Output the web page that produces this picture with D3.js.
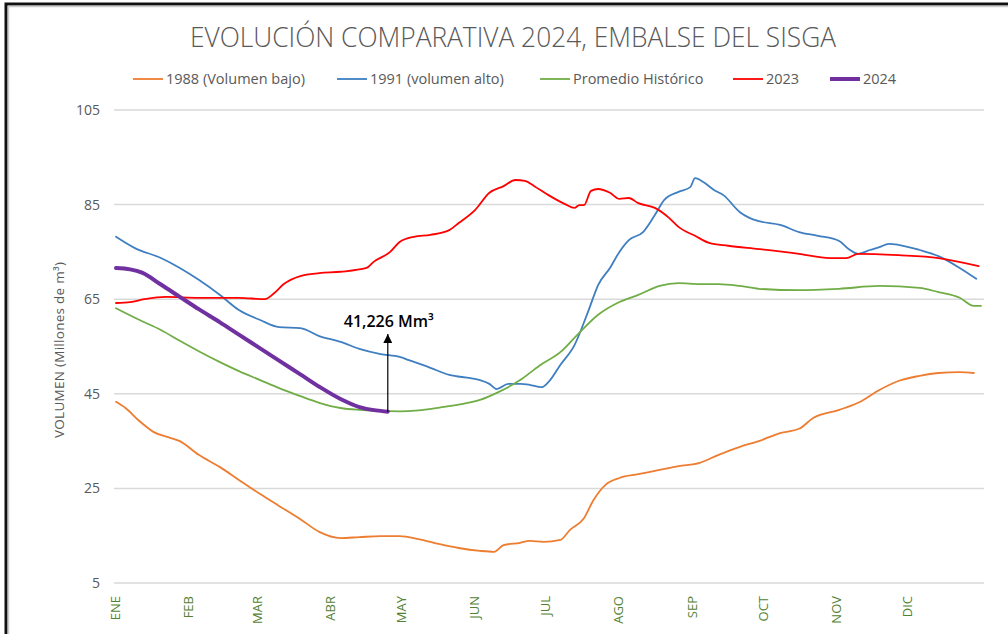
<!DOCTYPE html>
<html>
<head>
<meta charset="utf-8">
<script src="https://cdn.jsdelivr.net/npm/d3@7"></script>
<style>
  body { margin: 0; background: #fff; }
  text { font-family: "Open Sans", "Noto Sans", sans-serif; }
</style>
</head>
<body>
<div id="container"></div>
<script>
// day of year, volume (Mm3)
const months = ['ENE', 'FEB', 'MAR', 'ABR', 'MAY', 'JUN', 'JUL', 'AGO', 'SEP', 'OCT', 'NOV', 'DIC']
const monthStart = [0, 31, 60, 91, 121, 152, 182, 213, 244, 274, 305, 335]
const yTicks = [5, 25, 45, 65, 85, 105]

const vol1988 = [[0,43.3],[4,42.0],[10,39.2],[16,36.9],[23,35.7],[27,35.0],[35,32.1],[44,29.5],[52,26.8],[61,23.8],[69,21.3],[78,18.5],[86,15.8],[95,14.5],[103,14.7],[112,14.9],[120,14.9],[128,14.3],[137,13.2],[145,12.4],[154,11.8],[160,11.6],[164,13.0],[171,13.5],[175,13.9],[181,13.7],[188,14.1],[192,16.2],[198,18.7],[202,22.5],[207,25.7],[213,27.2],[221,28.0],[230,28.9],[238,29.7],[247,30.4],[255,32.1],[264,33.8],[272,35.0],[281,36.7],[289,37.6],[295,39.9],[306,41.6],[314,43.1],[323,45.8],[331,47.7],[340,48.8],[348,49.4],[357,49.6],[363,49.4]]
const vol1991 = [[0,78.2],[8,75.8],[19,73.7],[27,71.6],[35,69.1],[44,65.9],[52,62.7],[61,60.6],[69,59.1],[78,58.9],[86,57.2],[95,56.0],[103,54.5],[112,53.4],[120,52.8],[124,52.1],[133,50.5],[141,49.0],[150,48.3],[154,47.9],[158,47.1],[161,46.0],[166,47.1],[171,47.1],[175,46.9],[180,46.4],[183,47.5],[188,51.1],[194,55.3],[200,62.7],[204,68.0],[209,71.6],[213,75.0],[217,77.5],[223,79.2],[228,82.8],[232,86.0],[238,87.7],[243,88.7],[245,90.6],[249,89.6],[253,88.1],[257,87.0],[264,83.4],[268,82.2],[272,81.5],[281,80.7],[289,79.2],[297,78.4],[306,77.3],[310,75.6],[314,74.6],[319,75.4],[323,76.0],[327,76.7],[331,76.5],[340,75.4],[348,74.1],[357,71.6],[364,69.3]]
const volPromedio = [[0,63.1],[10,60.6],[19,58.5],[27,56.2],[35,54.0],[44,51.7],[52,49.8],[61,47.9],[69,46.2],[78,44.5],[86,43.1],[95,42.0],[103,41.6],[112,41.4],[120,41.3],[128,41.5],[137,42.1],[145,42.7],[154,43.7],[162,45.4],[171,47.9],[179,50.9],[188,53.8],[196,57.9],[204,61.7],[213,64.4],[221,65.9],[230,67.8],[238,68.4],[247,68.2],[255,68.2],[264,67.8],[272,67.2],[289,66.9],[306,67.2],[323,67.8],[340,67.4],[348,66.5],[357,65.3],[363,63.6],[366,63.6]]
const vol2023 = [[0,64.2],[6,64.4],[12,65.0],[21,65.5],[35,65.3],[52,65.3],[63,65.0],[67,66.3],[71,68.2],[78,69.9],[86,70.5],[95,70.8],[106,71.6],[109,72.9],[116,75.0],[120,77.1],[126,78.2],[133,78.6],[141,79.6],[145,81.1],[152,83.9],[158,87.5],[164,88.9],[169,90.2],[173,90.0],[177,88.9],[183,87.0],[190,85.1],[194,84.3],[196,84.9],[198,84.9],[201,87.9],[204,88.3],[209,87.5],[213,86.2],[217,86.4],[221,85.3],[228,84.3],[234,82.2],[238,80.3],[245,78.4],[251,76.9],[259,76.3],[272,75.6],[289,74.6],[302,73.7],[309,73.7],[314,74.6],[331,74.3],[348,73.7],[365,72.0]]
const vol2024 = [[0,71.6],[6,71.3],[11,70.6],[19,68.1],[27,65.5],[35,62.9],[44,60.1],[52,57.5],[61,54.6],[69,52.0],[78,49.1],[86,46.5],[95,43.9],[103,42.2],[110,41.5],[115,41.226]]

const series = [
    {name: '1988 (Volumen bajo)', data: vol1988, color: '#ED7D31', width: 1.8},
    {name: '1991 (volumen alto)', data: vol1991, color: '#3F7FC1', width: 1.8},
    {name: 'Promedio Histórico', data: volPromedio, color: '#70AD47', width: 1.8},
    {name: '2023', data: vol2023, color: '#FF0000', width: 1.8},
    {name: '2024', data: vol2024, color: '#7030A0', width: 4},
]

const config = {width: 1008, height: 634, left: 116, right: 981, top: 110, bottom: 583}

const svg = d3.select('#container')
    .append('svg')
    .attr('width', config.width)
    .attr('height', config.height)

// frame
svg.append('path')
    .attr('d', `M6,${config.height} V4 H${config.width}`)
    .attr('fill', 'none')
    .attr('stroke', '#111')
    .attr('stroke-width', 3)
svg.append('path')
    .attr('d', `M8.5,${config.height} V6.5 H${config.width}`)
    .attr('fill', 'none')
    .attr('stroke', '#ccc')
    .attr('stroke-width', 1.5)

svg.append('text')
    .attr('x', 513)
    .attr('y', 47)
    .attr('text-anchor', 'middle')
    .attr('textLength', 646)
    .attr('lengthAdjust', 'spacingAndGlyphs')
    .style('font-size', '27px')
    .style('font-weight', 300)
    .style('fill', '#595959')
    .text('EVOLUCIÓN COMPARATIVA 2024, EMBALSE DEL SISGA')

const xScale = d3.scaleLinear().domain([0, 366]).range([config.left, config.right])
const yScale = d3.scaleLinear().domain([5, 105]).range([config.bottom, config.top])

svg.append('g')
    .selectAll('line')
    .data(yTicks)
    .join('line')
    .attr('x1', 114)
    .attr('x2', 984)
    .attr('y1', d => yScale(d))
    .attr('y2', d => yScale(d))
    .attr('stroke', '#d9d9d9')
    .attr('stroke-width', 1.5)

const yAxis = svg.append('g')
    .attr('transform', 'translate(114,0)')
    .call(d3.axisLeft(yScale).tickValues(yTicks).tickSize(0).tickPadding(14))
yAxis.select('.domain').remove()
yAxis.selectAll('text')
    .style('font-size', '14px')
    .style('fill', '#595959')
    .style('font-family', '"Open Sans", sans-serif')

svg.append('text')
    .attr('transform', 'translate(64,350) rotate(-90)')
    .attr('text-anchor', 'middle')
    .attr('textLength', 176)
    .style('font-size', '13.5px')
    .style('fill', '#595959')
    .text('VOLUMEN (Millones de m³)')

svg.append('g')
    .selectAll('text')
    .data(months)
    .join('text')
    .attr('transform', (d, i) => `translate(${xScale(monthStart[i]) + 4},596) rotate(-90)`)
    .attr('text-anchor', 'end')
    .style('font-size', '13px')
    .style('fill', '#548235')
    .text(d => d)

const line = d3.line()
    .x(d => xScale(d[0]))
    .y(d => yScale(d[1]))
    .curve(d3.curveMonotoneX)

svg.append('g')
    .selectAll('path')
    .data(series)
    .join('path')
    .attr('d', d => line(d.data))
    .attr('fill', 'none')
    .attr('stroke', d => d.color)
    .attr('stroke-width', d => d.width)
    .attr('stroke-linejoin', 'round')
    .attr('stroke-linecap', 'round')

// annotation on last 2024 value
const last = vol2024[vol2024.length - 1]
svg.append('defs').append('marker')
    .attr('id', 'arrow')
    .attr('viewBox', '0 0 10 10')
    .attr('refX', 10).attr('refY', 5)
    .attr('markerWidth', 11).attr('markerHeight', 9)
    .attr('markerUnits', 'userSpaceOnUse')
    .attr('orient', 'auto')
    .append('path')
    .attr('d', 'M0,0 L10,5 L0,10 Z')
    .attr('fill', '#000')
svg.append('line')
    .attr('x1', xScale(last[0]))
    .attr('x2', xScale(last[0]))
    .attr('y1', yScale(last[1]))
    .attr('y2', 334)
    .attr('stroke', '#000')
    .attr('stroke-width', 1.2)
    .attr('marker-end', 'url(#arrow)')
svg.append('text')
    .attr('x', xScale(last[0]) + 1)
    .attr('y', 327)
    .attr('text-anchor', 'middle')
    .style('font-size', '16px')
    .style('font-weight', 600)
    .style('fill', '#000')
    .text(d3.format(',.3f')(last[1]).replace('.', ',') + ' Mm³')

// legend
const legendX = [133, 337, 540, 733, 830]
const legend = svg.append('g')
    .selectAll('g')
    .data(series)
    .join('g')
    .attr('transform', (d, i) => `translate(${legendX[i]},79)`)
legend.append('line')
    .attr('x1', 0).attr('x2', 30)
    .attr('stroke', d => d.color)
    .attr('stroke-width', d => d.width)
legend.append('text')
    .attr('x', 33)
    .attr('dy', '0.35em')
    .style('font-size', '14.5px')
    .style('fill', '#595959')
    .text(d => d.name)
</script>
</body>
</html>
